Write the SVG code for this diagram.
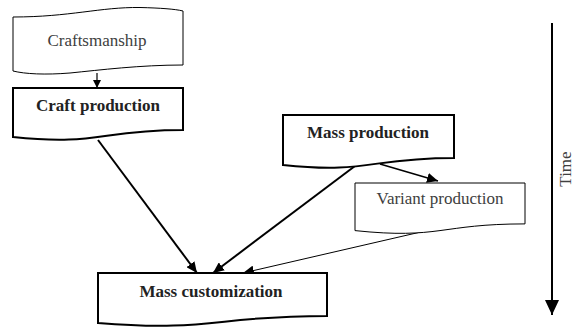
<svg xmlns="http://www.w3.org/2000/svg" width="574" height="328" viewBox="0 0 574 328">
<style>
.bg{fill:#fff}
.thin{fill:#fff;stroke:#000;stroke-width:1}
.thick{fill:#fff;stroke:#000;stroke-width:2}
text{font-family:'Liberation Serif','Times New Roman',Tinos,'DejaVu Serif',serif;font-size:17px}
.lt{fill:#404040;text-anchor:middle}
.bt{font-weight:bold;fill:#222;text-anchor:middle}
.c{fill:none;stroke:#000}
</style>
<defs>
<marker id="ah" markerUnits="userSpaceOnUse" markerWidth="12" markerHeight="10" refX="11" refY="5" orient="auto">
<path d="M0,0 L11,5 L0,10 Z" fill="#000"/>
</marker>
<marker id="ahs" markerUnits="userSpaceOnUse" markerWidth="9" markerHeight="8" refX="8" refY="4" orient="auto">
<path d="M0,0 L8,4 L0,8 Z" fill="#000"/>
</marker>
<marker id="aht" markerUnits="userSpaceOnUse" markerWidth="16" markerHeight="15" refX="15" refY="7" orient="auto">
<path d="M0,0 L15,7 L0,14 Z" fill="#000"/>
</marker>
</defs>
<rect class="bg" width="574" height="328"/>
<g id="connectors">
<line class="c" stroke-width="1.2" x1="97" y1="73" x2="97" y2="88" marker-end="url(#ahs)"/>
<line class="c" stroke-width="2" x1="98" y1="140" x2="197" y2="273" marker-end="url(#ah)"/>
<line class="c" stroke-width="2" x1="355" y1="166" x2="213" y2="273" marker-end="url(#ah)"/>
<line class="c" stroke-width="1.5" x1="380" y1="164" x2="438" y2="181" marker-end="url(#ah)"/>
<line class="c" stroke-width="1" x1="425" y1="231" x2="243" y2="273" marker-end="url(#ah)"/>
</g>
<g id="craftsmanship">
<path class="thin" d="M13,17 C70,17 100,7 140,7.5 C160,8 175,9 183,11 V65 C140,65 100,70 70,73 C45,75 25,74 13,71 Z"/>
<text class="lt" x="97" y="46">Craftsmanship</text>
</g>
<g id="craft-production">
<path class="thick" d="M13,88 H183 V130.1 C98,130.1 98,146.1 13,137 Z"/>
<text class="bt" x="98" y="111">Craft production</text>
</g>
<g id="mass-production">
<path class="thick" d="M283,115 H454 V157.9 C368.5,157.9 368.5,174.2 283,165 Z"/>
<text class="bt" x="368" y="138">Mass production</text>
</g>
<g id="variant-production">
<path class="thin" d="M355,183 H525 V223.9 C440,223.9 440,239.5 355,230.6 Z"/>
<text class="lt" x="440" y="204">Variant production</text>
</g>
<g id="mass-customization">
<path class="thick" d="M98,273 H327 V315.9 C212.5,315.9 212.5,332.2 98,323 Z"/>
<text class="bt" x="211" y="297">Mass customization</text>
</g>
<g id="time">
<line class="c" stroke-width="2" x1="552" y1="23" x2="552" y2="315" marker-end="url(#aht)"/>
<text class="lt" x="0" y="0" transform="translate(571,169) rotate(-90)">Time</text>
</g>
</svg>
